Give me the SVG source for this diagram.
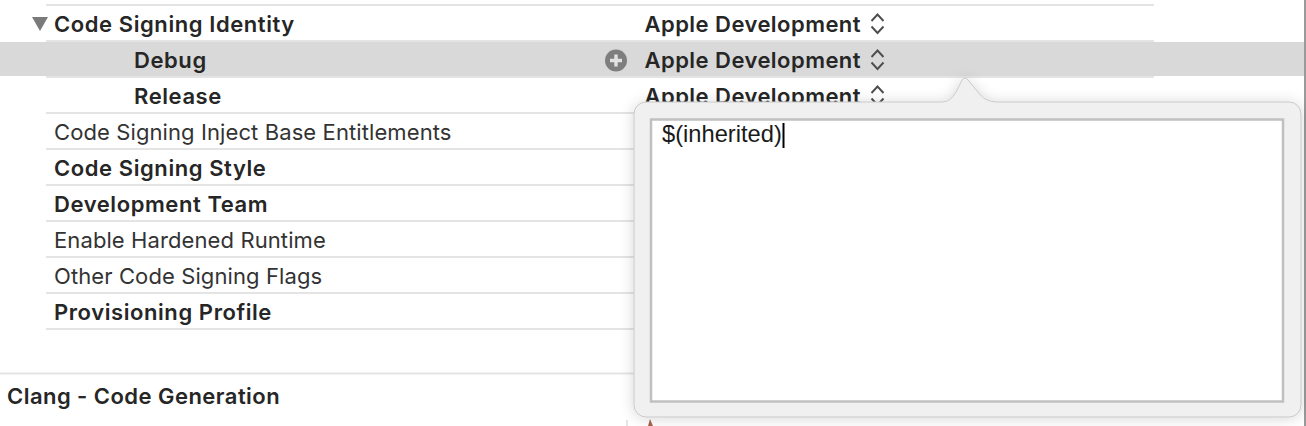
<svg xmlns="http://www.w3.org/2000/svg" width="1306" height="426" viewBox="0 0 1306 426">
<defs>
<style>
text{font-family:"Inter","Liberation Sans",sans-serif;font-size:22px;fill:#262626}
.b{font-weight:600;letter-spacing:.58px}
.a{font-weight:600;letter-spacing:.46px}
.r{font-weight:400;fill:#333;letter-spacing:.1px}
.line{stroke:#e4e4e4;stroke-width:2;fill:none}
.chev{stroke:#4d4d4d;stroke-width:1.900;fill:none}
</style>
<filter id="sh" x="-5%" y="-10%" width="110%" height="120%"><feDropShadow dx="0" dy="1" stdDeviation="7" flood-color="#000" flood-opacity="0.16"/></filter>
<g id="updown"><path class="chev" d="M-6 -3L0 -9.500L6 -3M-6 2.500L0 9L6 2.500"/></g>
</defs>
<rect width="1306" height="426" fill="#fff"/>
<g id="rows">
<rect x="0" y="42" width="1304" height="34" fill="#d9d9d9"/>
<path class="line" d="M46 5H1154M46 41H1154M46 77H1154M46 113H1154M46 149H1154M46 185H1154M46 221H1154M46 257H1154M46 293H1154M46 329H1154M0 373.500H640"/>
<path d="M32 17H48L40 31Z" fill="#7b7b7b"/>
<text class="b" x="54" y="32">Code Signing Identity</text>
<text class="b" x="134" y="68">Debug</text>
<text class="b" x="134" y="104">Release</text>
<text class="r" x="54" y="140">Code Signing Inject Base Entitlements</text>
<text class="b" x="54" y="176">Code Signing Style</text>
<text class="b" x="54" y="212">Development Team</text>
<text class="r" x="54" y="248">Enable Hardened Runtime</text>
<text class="r" x="54" y="284">Other Code Signing Flags</text>
<text class="b" x="54" y="320">Provisioning Profile</text>
<text class="a" x="7" y="404">Clang - Code Generation</text>
<text class="a" x="644.500" y="32">Apple Development</text>
<use href="#updown" x="877.500" y="24"/>
<circle cx="616" cy="60.500" r="11" fill="#7e7e7e"/>
<path d="M616 54.500V66.500M610 60.500H622" stroke="#e2e2e2" stroke-width="3.400"/>
<text class="a" x="644.500" y="68">Apple Development</text>
<use href="#updown" x="877.500" y="60"/>
<text class="a" x="644.500" y="104">Apple Development</text>
<use href="#updown" x="877.500" y="96"/>
<rect x="1304" y="0" width="2" height="426" fill="#9a9a9a"/>
<path d="M627 420V426" stroke="#dcdcdc" stroke-width="1.500"/>
</g>
<g id="popover">
<path filter="url(#sh)" d="M646 102H940C950 102 952 98 956 92L962 80Q965 76 968 80L978 92C982 98 988 102 998 102H1289A12 12 0 0 1 1301 114V405A12 12 0 0 1 1289 417H646A12 12 0 0 1 634 405V114A12 12 0 0 1 646 102Z" fill="#f0f0f0" stroke="#c8c8c8" stroke-width="1"/>
<rect x="651" y="119.500" width="632" height="282" fill="#fff" stroke="#c0c0c0" stroke-width="2.500"/>
<text x="662" y="142" style="font-family:'Liberation Sans',Arial,sans-serif;font-size:23.700px;fill:#1a1a1a">$(inherited)</text>
<path d="M783.500 123V148" stroke="#000" stroke-width="2"/>
</g>
<path d="M650 419L653 426H648Z" fill="#a0604a"/>
</svg>
